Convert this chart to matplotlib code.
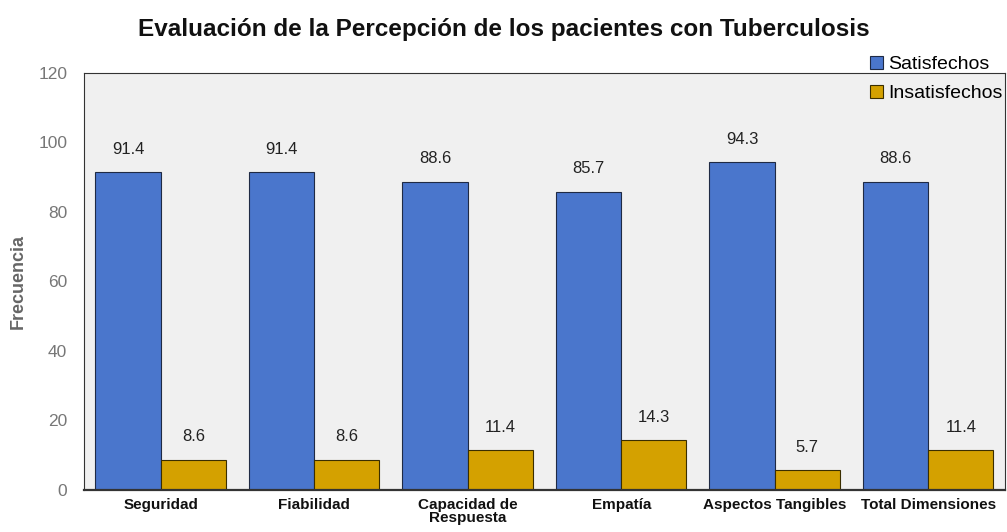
import matplotlib.pyplot as plt
import numpy as np

plt.rcParams['font.family'] = ['Liberation Sans', 'DejaVu Sans']

categorias = ['Seguridad', 'Fiabilidad', 'Capacidad de\nRespuesta', 'Empatía',
              'Aspectos Tangibles', 'Total Dimensiones']
satisfechos = [91.4, 91.4, 88.6, 85.7, 94.3, 88.6]
insatisfechos = [8.6, 8.6, 11.4, 14.3, 5.7, 11.4]

azul = '#4a76cc'
oro = '#d4a100'

fig = plt.figure(figsize=(10.07, 5.32), dpi=100)
ax = fig.add_axes([0.0834, 0.079, 0.9146, 0.784])
ax.set_facecolor('#f0f0f0')

x = np.arange(len(categorias))
w = 0.425
b1 = ax.bar(x - w/2, satisfechos, w, color=azul, edgecolor='#1f2a44', lw=0.8, label='Satisfechos')
b2 = ax.bar(x + w/2, insatisfechos, w, color=oro, edgecolor='#3a2e00', lw=0.8, label='Insatisfechos')

for bars, vals in ((b1, satisfechos), (b2, insatisfechos)):
    for r, v in zip(bars, vals):
        ax.text(r.get_x() + r.get_width()/2, v + 4.5, f'{v:.1f}', ha='center', va='bottom',
                fontsize=12, color='#222222')

ax.set_xlim(-0.5, len(categorias) - 0.5)
ax.set_ylim(0, 120)
ax.set_yticks(range(0, 121, 20))
ax.set_xticks(x)
ax.set_xticklabels(categorias, fontsize=11, fontweight='bold', color='#111111', linespacing=0.85)
ax.tick_params(axis='y', labelsize=12.5, labelcolor='#777777', length=0, pad=12)
ax.tick_params(axis='x', length=0, pad=6)
for s in ax.spines.values():
    s.set_color('#333333')
    s.set_linewidth(0.8)
ax.spines['bottom'].set_linewidth(1.6)

ax.set_ylabel('Frecuencia', fontsize=13, fontweight='bold', color='#666666', labelpad=8)
fig.text(0.5, 0.945, 'Evaluación de la Percepción de los pacientes con Tuberculosis',
         ha='center', va='center', fontsize=17.5, fontweight='bold', color='#111111')

fig.legend(handles=[b1, b2], loc='upper right', bbox_to_anchor=(1.003, 0.91), frameon=False,
           fontsize=14, handlelength=0.65, handleheight=0.65, handletextpad=0.25,
           labelspacing=0.6, borderaxespad=0)

plt.savefig('out.png')
